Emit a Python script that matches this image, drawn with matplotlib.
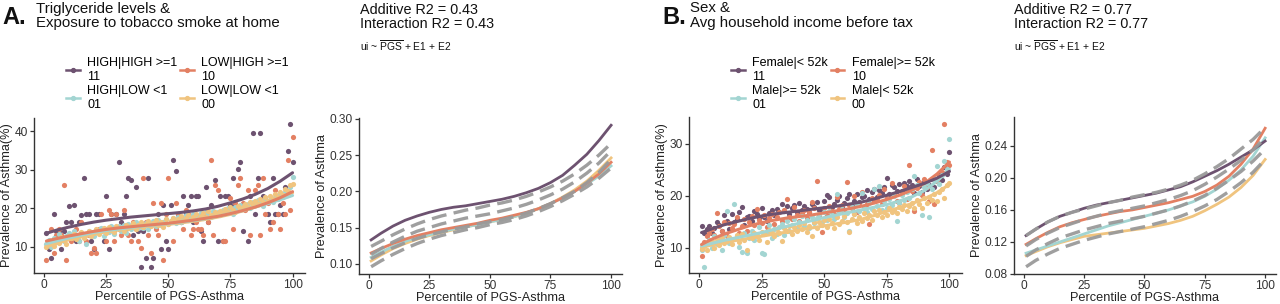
import matplotlib
matplotlib.use("Agg")
import matplotlib.pyplot as plt
from matplotlib.lines import Line2D
import numpy as np

plt.rcParams['font.family'] = ['Liberation Sans', 'DejaVu Sans']
plt.rcParams['mathtext.fontset'] = 'custom'
plt.rcParams['mathtext.sf'] = 'Liberation Sans'
plt.rcParams['mathtext.rm'] = 'Liberation Sans'

# ---------------- data ----------------
pct = list(range(1, 101))
grid = [1, 5, 10, 15, 20, 25, 30, 35, 40, 45, 50, 55, 60, 65, 70, 75, 80, 85, 90, 95, 100]

colors = {"11": "#6d5270", "10": "#e38063", "01": "#a3d5d2", "00": "#f0c47f"}
dash_color = "#9a9a9a"

# Panel A labels
labels_A = {"11": "HIGH|HIGH >=1\n11", "10": "LOW|HIGH >=1\n10",
            "01": "HIGH|LOW <1\n01", "00": "LOW|LOW <1\n00"}
title_A = "Triglyceride levels &\nExposure to tobacco smoke at home"
r2_A = "Additive R2 = 0.43\nInteraction R2 = 0.43"

# Panel A scatter (prevalence %)
A_11 = [13.6, 9.3, 7.0, 18.6, 14.0, 14.0, 9.3, 14.0, 16.3, 20.5,
        16.3, 20.9, 11.6, 16.3, 18.2, 27.9, 18.6, 18.6, 11.6, 9.3,
        18.6, 18.6, 14.0, 11.6, 23.3, 9.3, 18.6, 14.0, 18.6, 31.9,
        16.3, 18.6, 23.3, 27.9, 27.2, 13.0, 25.6, 14.0, 4.7, 14.0,
        7.0, 27.9, 4.7, 7.0, 16.3, 18.6, 9.3, 20.9, 11.6, 9.3,
        20.9, 32.6, 29.6, 18.6, 16.3, 23.3, 18.6, 20.9, 23.3, 16.3,
        23.3, 23.3, 14.0, 11.6, 25.6, 16.3, 20.9, 18.6, 27.2, 11.6,
        23.3, 11.6, 23.3, 23.3, 20.9, 27.9, 20.9, 30.2, 31.9, 14.0,
        20.9, 11.6, 23.3, 39.5, 18.6, 27.9, 39.5, 23.3, 22.6, 18.6,
        16.3, 27.9, 18.6, 18.6, 20.9, 18.6, 25.6, 34.9, 41.9, 31.9]
A_10 = [6.5, 11.6, 14.7, 8.3, 13.0, 14.7, 13.0, 26.0, 6.5, 13.0,
        11.5, 13.0, 14.7, 11.5, 16.3, 13.0, 11.5, 13.0, 8.3, 9.7,
        8.3, 14.7, 18.6, 14.7, 11.5, 19.6, 18.6, 11.5, 18.6, 14.7,
        13.0, 19.6, 14.7, 13.0, 11.5, 16.3, 14.7, 11.5, 9.7, 27.9,
        16.3, 13.0, 8.3, 21.3, 14.7, 13.0, 21.3, 6.5, 18.6, 27.9,
        16.3, 11.5, 21.3, 18.6, 16.3, 14.7, 19.6, 18.6, 13.0, 14.7,
        16.3, 14.7, 14.7, 13.0, 18.6, 16.3, 32.6, 13.0, 26.0, 24.6,
        18.6, 11.5, 11.5, 19.6, 22.6, 14.7, 21.3, 26.0, 27.9, 21.3,
        19.6, 24.6, 13.0, 21.3, 24.6, 26.0, 13.0, 27.9, 18.6, 21.3,
        14.7, 16.3, 24.6, 18.6, 14.7, 21.3, 18.6, 32.6, 19.6, 38.6]
A_01 = [10.6, 11.8, 9.9, 12.4, 11.3, 13.2, 12.0, 11.5, 12.8, 13.6,
        12.3, 14.2, 12.9, 11.6, 13.7, 12.5, 10.8, 14.0, 13.1, 12.7,
        14.4, 13.5, 15.0, 12.8, 14.6, 13.9, 15.3, 13.2, 14.8, 15.5,
        14.1, 15.7, 13.6, 16.0, 14.5, 15.2, 16.3, 14.8, 15.9, 15.0,
        16.2, 14.7, 15.8, 16.6, 15.3, 17.0, 15.6, 16.4, 17.2, 15.9,
        16.8, 17.5, 16.1, 17.8, 16.5, 17.3, 18.2, 16.9, 17.6, 18.4,
        17.1, 18.0, 18.7, 17.4, 19.1, 18.3, 17.8, 19.4, 18.6, 19.0,
        18.2, 19.6, 18.9, 20.1, 19.3, 18.5, 20.4, 19.7, 20.9, 19.9,
        20.5, 21.2, 20.0, 21.6, 20.8, 22.1, 21.3, 20.6, 22.5, 21.8,
        22.2, 21.5, 23.0, 22.4, 23.6, 22.8, 24.3, 23.4, 25.6, 28.0]
A_00 = [9.9, 10.6, 11.4, 10.2, 12.0, 11.1, 12.5, 11.7, 10.8, 12.9,
        12.2, 13.3, 11.9, 12.7, 13.8, 12.4, 13.1, 14.2, 12.8, 13.6,
        14.5, 13.2, 14.0, 14.8, 13.5, 15.1, 14.3, 13.8, 15.4, 14.6,
        15.0, 14.2, 15.7, 14.9, 15.3, 16.1, 14.7, 15.6, 16.4, 15.2,
        15.9, 16.6, 15.4, 16.2, 17.0, 15.7, 16.5, 15.1, 17.3, 16.0,
        16.8, 17.5, 16.3, 17.1, 17.9, 16.6, 17.4, 18.2, 16.9, 17.7,
        18.5, 17.2, 18.0, 18.8, 17.6, 19.2, 18.3, 17.9, 19.0, 18.6,
        19.4, 18.7, 19.8, 19.1, 20.3, 19.5, 18.9, 20.6, 19.9, 20.2,
        21.0, 20.4, 21.5, 20.8, 21.9, 21.2, 22.3, 21.6, 22.8, 22.0,
        23.1, 22.5, 23.6, 22.9, 24.2, 23.5, 25.0, 24.4, 26.0, 26.2]

# Panel A smoothed trends (%), on grid
A_s11 = [13.5, 14.3, 15.1, 15.8, 16.4, 16.9, 17.3, 17.7, 18.0, 18.3, 18.6,
         18.9, 19.3, 19.8, 20.5, 21.4, 22.4, 23.6, 25.1, 27.0, 29.2]
A_s10 = [11.5, 12.1, 12.8, 13.4, 14.0, 14.5, 14.9, 15.2, 15.5, 15.8, 16.1,
         16.5, 16.9, 17.4, 17.9, 18.6, 19.4, 20.3, 21.4, 22.7, 24.3]
A_s01 = [10.8, 11.5, 12.3, 13.0, 13.7, 14.2, 14.6, 15.0, 15.4, 15.7, 16.0,
         16.4, 16.8, 17.3, 17.9, 18.6, 19.4, 20.3, 21.2, 22.2, 23.3]
A_s00 = [10.0, 10.9, 11.8, 12.6, 13.3, 13.9, 14.4, 14.8, 15.2, 15.5, 15.8,
         16.2, 16.6, 17.1, 17.7, 18.4, 19.3, 20.3, 21.4, 22.7, 24.0]

# Panel A model curves (fraction), on grid
A_i11 = [0.133, 0.142, 0.152, 0.160, 0.166, 0.171, 0.175, 0.178, 0.180, 0.183, 0.186,
         0.189, 0.193, 0.198, 0.204, 0.212, 0.222, 0.236, 0.251, 0.270, 0.291]
A_i10 = [0.115, 0.121, 0.128, 0.134, 0.139, 0.143, 0.147, 0.150, 0.153, 0.156, 0.160,
         0.163, 0.167, 0.171, 0.176, 0.183, 0.191, 0.200, 0.211, 0.224, 0.240]
A_i01 = [0.109, 0.116, 0.124, 0.131, 0.136, 0.140, 0.144, 0.148, 0.151, 0.154, 0.158,
         0.161, 0.165, 0.170, 0.176, 0.183, 0.191, 0.200, 0.210, 0.221, 0.235]
A_i00 = [0.104, 0.112, 0.121, 0.128, 0.134, 0.139, 0.143, 0.147, 0.151, 0.154, 0.158,
         0.161, 0.165, 0.170, 0.176, 0.183, 0.192, 0.202, 0.214, 0.229, 0.246]
A_d = [
    [0.124, 0.131, 0.140, 0.148, 0.155, 0.161, 0.166, 0.170, 0.174, 0.177, 0.181,
     0.184, 0.188, 0.193, 0.199, 0.206, 0.214, 0.224, 0.236, 0.250, 0.266],
    [0.113, 0.121, 0.130, 0.138, 0.145, 0.150, 0.155, 0.159, 0.163, 0.166, 0.169,
     0.173, 0.177, 0.182, 0.188, 0.195, 0.203, 0.213, 0.225, 0.239, 0.256],
    [0.107, 0.114, 0.122, 0.129, 0.135, 0.140, 0.144, 0.148, 0.151, 0.155, 0.158,
     0.161, 0.165, 0.170, 0.176, 0.183, 0.191, 0.200, 0.212, 0.226, 0.244],
    [0.096, 0.104, 0.113, 0.121, 0.128, 0.134, 0.139, 0.143, 0.147, 0.150, 0.154,
     0.157, 0.161, 0.166, 0.172, 0.179, 0.187, 0.196, 0.206, 0.218, 0.232],
]

# Panel B labels
labels_B = {"11": "Female|< 52k\n11", "10": "Female|>= 52k\n10",
            "01": "Male|>= 52k\n01", "00": "Male|< 52k\n00"}
title_B = "Sex &\nAvg household income before tax"
r2_B = "Additive R2 = 0.77\nInteraction R2 = 0.77"

B_11 = [14.1, 12.8, 13.5, 14.2, 12.9, 13.8, 15.0, 14.4, 13.2, 16.3,
        15.1, 13.6, 16.4, 14.9, 15.5, 16.9, 17.8, 14.3, 15.9, 16.1,
        15.2, 17.0, 16.4, 15.8, 17.6, 16.0, 15.1, 16.7, 17.2, 16.3,
        17.5, 16.9, 18.4, 17.1, 18.0, 16.5, 17.7, 18.3, 16.9, 18.6,
        17.2, 18.1, 17.5, 16.8, 18.4, 17.9, 18.8, 17.3, 17.0, 19.0,
        20.1, 19.7, 17.8, 18.5, 19.2, 20.0, 17.9, 18.7, 19.5, 20.3,
        18.1, 19.0, 20.4, 18.8, 19.7, 20.0, 21.1, 19.3, 20.8, 21.4,
        19.8, 21.2, 20.5, 21.7, 23.5, 20.3, 22.0, 21.6, 20.9, 22.3,
        21.0, 22.5, 21.8, 22.9, 22.1, 20.5, 23.2, 21.9, 20.8, 22.6,
        21.4, 22.1, 23.3, 21.6, 22.9, 24.0, 23.1, 25.5, 24.2, 28.5]
B_10 = [8.3, 11.0, 12.3, 12.8, 13.5, 12.5, 16.7, 14.1, 13.2, 15.0,
        12.2, 14.8, 13.8, 14.5, 15.9, 12.9, 14.2, 15.6, 13.3, 14.9,
        16.1, 14.3, 17.5, 15.4, 14.8, 16.2, 13.9, 15.7, 16.5, 14.6,
        15.9, 16.8, 15.1, 17.2, 19.4, 16.0, 15.5, 17.9, 16.3, 15.2,
        16.6, 17.3, 15.8, 16.9, 18.8, 17.6, 22.8, 16.2, 13.0, 17.7,
        16.3, 18.0, 17.1, 16.5, 19.8, 17.4, 18.3, 17.0, 22.6, 18.2,
        17.6, 19.9, 16.8, 18.7, 20.8, 17.9, 18.5, 14.5, 19.6, 18.9,
        19.2, 20.1, 18.4, 21.3, 19.5, 17.6, 22.4, 20.3, 19.0, 18.7,
        20.6, 21.8, 19.4, 26.0, 20.9, 17.0, 21.5, 22.6, 20.1, 23.2,
        21.7, 19.0, 28.8, 18.5, 22.9, 23.8, 24.6, 33.8, 26.5, 25.9]
B_01 = [9.5, 6.3, 10.8, 11.4, 9.9, 12.3, 10.7, 11.8, 9.6, 12.5,
        17.0, 10.9, 11.6, 18.4, 12.2, 10.1, 9.2, 12.8, 9.0, 11.9,
        13.2, 11.5, 12.4, 14.0, 9.0, 8.8, 12.9, 14.3, 11.8, 13.6,
        12.7, 13.9, 14.6, 12.4, 15.1, 13.3, 14.4, 15.5, 13.8, 14.9,
        16.1, 14.2, 15.3, 13.7, 16.0, 14.8, 15.7, 16.4, 15.0, 16.8,
        15.4, 17.1, 16.2, 15.6, 20.3, 16.9, 17.5, 15.9, 16.6, 13.3,
        17.8, 16.4, 18.2, 17.0, 20.5, 17.7, 16.8, 18.6, 17.4, 21.4,
        18.1, 21.8, 17.3, 18.9, 17.6, 19.4, 18.3, 19.9, 15.2, 18.7,
        20.2, 19.1, 20.8, 19.6, 21.3, 23.9, 22.0, 20.5, 16.2, 21.7,
        22.5, 15.9, 21.4, 23.1, 25.7, 22.3, 24.0, 26.7, 25.2, 31.0]
B_00 = [9.8, 10.3, 9.5, 10.9, 11.2, 10.0, 11.6, 10.5, 11.9, 10.8,
        11.3, 12.0, 10.6, 11.7, 12.4, 11.1, 12.7, 11.5, 9.6, 12.1,
        11.8, 12.9, 12.3, 11.4, 13.1, 12.6, 11.0, 13.4, 12.8, 12.2,
        13.5, 12.9, 11.2, 13.8, 13.3, 14.1, 12.7, 13.9, 13.2, 14.4,
        13.6, 14.7, 13.0, 14.2, 12.3, 14.9, 13.8, 15.0, 14.3, 15.3,
        14.0, 15.6, 14.8, 13.7, 15.9, 14.5, 15.2, 16.1, 14.9, 13.0,
        15.5, 16.4, 14.8, 16.0, 15.2, 16.7, 15.8, 16.3, 15.4, 17.0,
        16.2, 17.3, 15.9, 16.8, 16.3, 17.6, 16.9, 17.2, 16.6, 17.9,
        17.5, 18.3, 17.1, 18.0, 18.6, 17.7, 19.1, 18.4, 17.6, 19.5,
        18.7, 19.8, 19.2, 20.4, 18.9, 20.7, 21.3, 19.6, 22.0, 22.5]

B_s11 = [12.9, 13.6, 14.4, 15.0, 15.6, 16.1, 16.5, 16.8, 17.1, 17.4, 17.7,
         18.0, 18.4, 18.8, 19.4, 20.1, 20.8, 21.6, 22.4, 23.4, 24.7]
B_s10 = [10.6, 11.6, 12.6, 13.4, 14.2, 14.8, 15.3, 15.7, 16.0, 16.3, 16.7,
         17.1, 17.5, 18.0, 18.6, 19.3, 20.1, 21.1, 22.4, 24.2, 26.5]
B_s01 = [10.3, 10.8, 11.4, 11.9, 12.4, 12.9, 13.5, 14.1, 14.7, 15.2, 15.8,
         16.3, 16.8, 17.3, 17.8, 18.3, 19.0, 19.8, 21.0, 22.8, 25.1]
B_s00 = [10.0, 10.5, 11.0, 11.4, 11.8, 12.2, 12.6, 13.0, 13.4, 13.8, 14.2,
         14.6, 15.0, 15.5, 16.2, 17.0, 17.7, 18.5, 19.4, 20.6, 22.2]

B_i11 = [0.128, 0.136, 0.145, 0.152, 0.157, 0.162, 0.166, 0.169, 0.172, 0.175, 0.178,
         0.181, 0.185, 0.189, 0.195, 0.202, 0.209, 0.217, 0.226, 0.235, 0.246]
B_i10 = [0.117, 0.124, 0.132, 0.139, 0.144, 0.148, 0.152, 0.155, 0.158, 0.160, 0.163,
         0.166, 0.169, 0.173, 0.177, 0.183, 0.191, 0.202, 0.217, 0.236, 0.262]
B_i01 = [0.106, 0.110, 0.115, 0.120, 0.125, 0.130, 0.135, 0.140, 0.144, 0.148, 0.152,
         0.156, 0.160, 0.165, 0.170, 0.177, 0.186, 0.197, 0.210, 0.227, 0.250]
B_i00 = [0.103, 0.108, 0.114, 0.119, 0.123, 0.127, 0.129, 0.131, 0.133, 0.135, 0.137,
         0.140, 0.143, 0.147, 0.152, 0.159, 0.167, 0.176, 0.188, 0.203, 0.223]
B_d = [
    [0.128, 0.136, 0.145, 0.152, 0.157, 0.161, 0.165, 0.169, 0.172, 0.176, 0.179,
     0.182, 0.186, 0.191, 0.197, 0.205, 0.214, 0.224, 0.236, 0.248, 0.263],
    [0.115, 0.123, 0.131, 0.138, 0.143, 0.148, 0.152, 0.156, 0.159, 0.162, 0.165,
     0.169, 0.173, 0.178, 0.184, 0.192, 0.201, 0.211, 0.222, 0.235, 0.250],
    [0.102, 0.110, 0.118, 0.125, 0.130, 0.135, 0.139, 0.143, 0.146, 0.149, 0.152,
     0.156, 0.160, 0.165, 0.171, 0.178, 0.187, 0.197, 0.208, 0.221, 0.236],
    [0.089, 0.097, 0.105, 0.112, 0.117, 0.122, 0.126, 0.130, 0.133, 0.136, 0.139,
     0.143, 0.147, 0.152, 0.158, 0.165, 0.173, 0.183, 0.194, 0.207, 0.223],
]

# ---------------- drawing ----------------
W, H = 1280, 304
fig = plt.figure(figsize=(W / 100, H / 100), dpi=100)

def box(l, t, r, b):
    return [l / W, (H - b) / H, (r - l) / W, (b - t) / H]

tick_col = "#333333"
spine_col = "#333333"
TICK_FS = 8.6
LAB_FS = 9.2

def style(ax):
    for s in ["top", "right"]:
        ax.spines[s].set_visible(False)
    for s in ["left", "bottom"]:
        ax.spines[s].set_color(spine_col)
        ax.spines[s].set_linewidth(1.0)
    ax.tick_params(colors=tick_col, labelsize=TICK_FS, length=3.0, width=0.9, pad=1.5)
    ax.set_xticks([0, 25, 50, 75, 100])
    ax.set_xlabel("Percentile of PGS-Asthma", fontsize=LAB_FS, color="#222222", labelpad=0)

def scatter_panel(ax, pts, smooth, ylim, yticks):
    order = ["11", "10", "01", "00"]
    for k in order:
        ax.scatter(pct, pts[k], s=14, color=colors[k], linewidths=0, zorder=2)
    for k in ["00", "01", "10", "11"]:
        ax.plot(grid, smooth[k], color=colors[k], lw=2.2, zorder=3, solid_capstyle="round")
    ax.set_xlim(-4, 105)
    ax.set_ylim(*ylim)
    ax.set_yticks(yticks)
    ax.set_ylabel("Prevalence of Asthma(%)", fontsize=LAB_FS, color="#222222", labelpad=1)
    style(ax)

def line_panel(ax, inter, dashes, ylim, yticks, fmt):
    for k in ["00", "01", "10", "11"]:
        ax.plot(grid, inter[k], color=colors[k], lw=2.0, zorder=2)
    for d in dashes:
        ax.plot(grid, d, color=dash_color, lw=2.4, ls=(0, (4.5, 2.2)), zorder=3, alpha=0.95)
    ax.set_xlim(-4, 104.5)
    ax.set_ylim(*ylim)
    ax.set_yticks(yticks)
    ax.set_yticklabels([fmt.format(v) for v in yticks])
    ax.set_ylabel("Prevalence of Asthma", fontsize=LAB_FS, color="#222222", labelpad=1)
    style(ax)

# Panel A
axA1 = fig.add_axes(box(34, 118, 305, 273))
scatter_panel(axA1, {"11": A_11, "10": A_10, "01": A_01, "00": A_00},
              {"11": A_s11, "10": A_s10, "01": A_s01, "00": A_s00},
              (3.2, 43.4), [10, 20, 30, 40])
axA2 = fig.add_axes(box(359, 118, 622, 274))
line_panel(axA2, {"11": A_i11, "10": A_i10, "01": A_i01, "00": A_i00}, A_d,
           (0.086, 0.301), [0.10, 0.15, 0.20, 0.25, 0.30], "{:.2f}")

# Panel B
axB1 = fig.add_axes(box(689, 117, 962, 273))
scatter_panel(axB1, {"11": B_11, "10": B_10, "01": B_01, "00": B_00},
              {"11": B_s11, "10": B_s10, "01": B_s01, "00": B_s00},
              (5.1, 35.2), [10, 20, 30])
axB2 = fig.add_axes(box(1014, 117, 1276, 274))
line_panel(axB2, {"11": B_i11, "10": B_i10, "01": B_i01, "00": B_i00}, B_d,
           (0.0805, 0.276), [0.08, 0.12, 0.16, 0.20, 0.24], "{:.2f}")

# Titles and annotations
def header(letter, lx, tx, title, r2x, r2, labels, leg_x):
    fig.text(lx / W, 1 - 24.5 / H, letter, fontsize=17, fontweight="bold", color="#111111",
             va="baseline", ha="left")
    fig.text(tx / W, 1 - 1.5 / H, title, fontsize=10.8, color="#111111", va="top", ha="left",
             linespacing=1.05)
    fig.text(r2x / W, 1 - 3 / H, r2, fontsize=10.4, color="#111111", va="top", ha="left",
             linespacing=1.0)
    fig.text(r2x / W, 1 - 38 / H, r"ui ~ $\overline{\mathsf{PGS}}$ + E1 + E2", fontsize=7.4,
             color="#111111", va="top", ha="left")
    handles = []
    labs = []
    for k in ["11", "01", "10", "00"]:
        handles.append(Line2D([0], [0], color=colors[k], lw=1.8, marker="o", markersize=2.8))
        labs.append(labels[k])
    fig.legend(handles, labs, ncol=2, loc="upper left",
               bbox_to_anchor=(leg_x / W, 1 - 57 / H), frameon=False, fontsize=9,
               handlelength=1.1, handletextpad=0.6, columnspacing=0.2,
               labelspacing=0.2, borderpad=0.0, borderaxespad=0.0)

header("A.", 2, 36, title_A, 360, r2_A, labels_A, 66)
header("B.", 662, 690, title_B, 1014, r2_B, labels_B, 731)

fig.savefig("out.png", dpi=100)
